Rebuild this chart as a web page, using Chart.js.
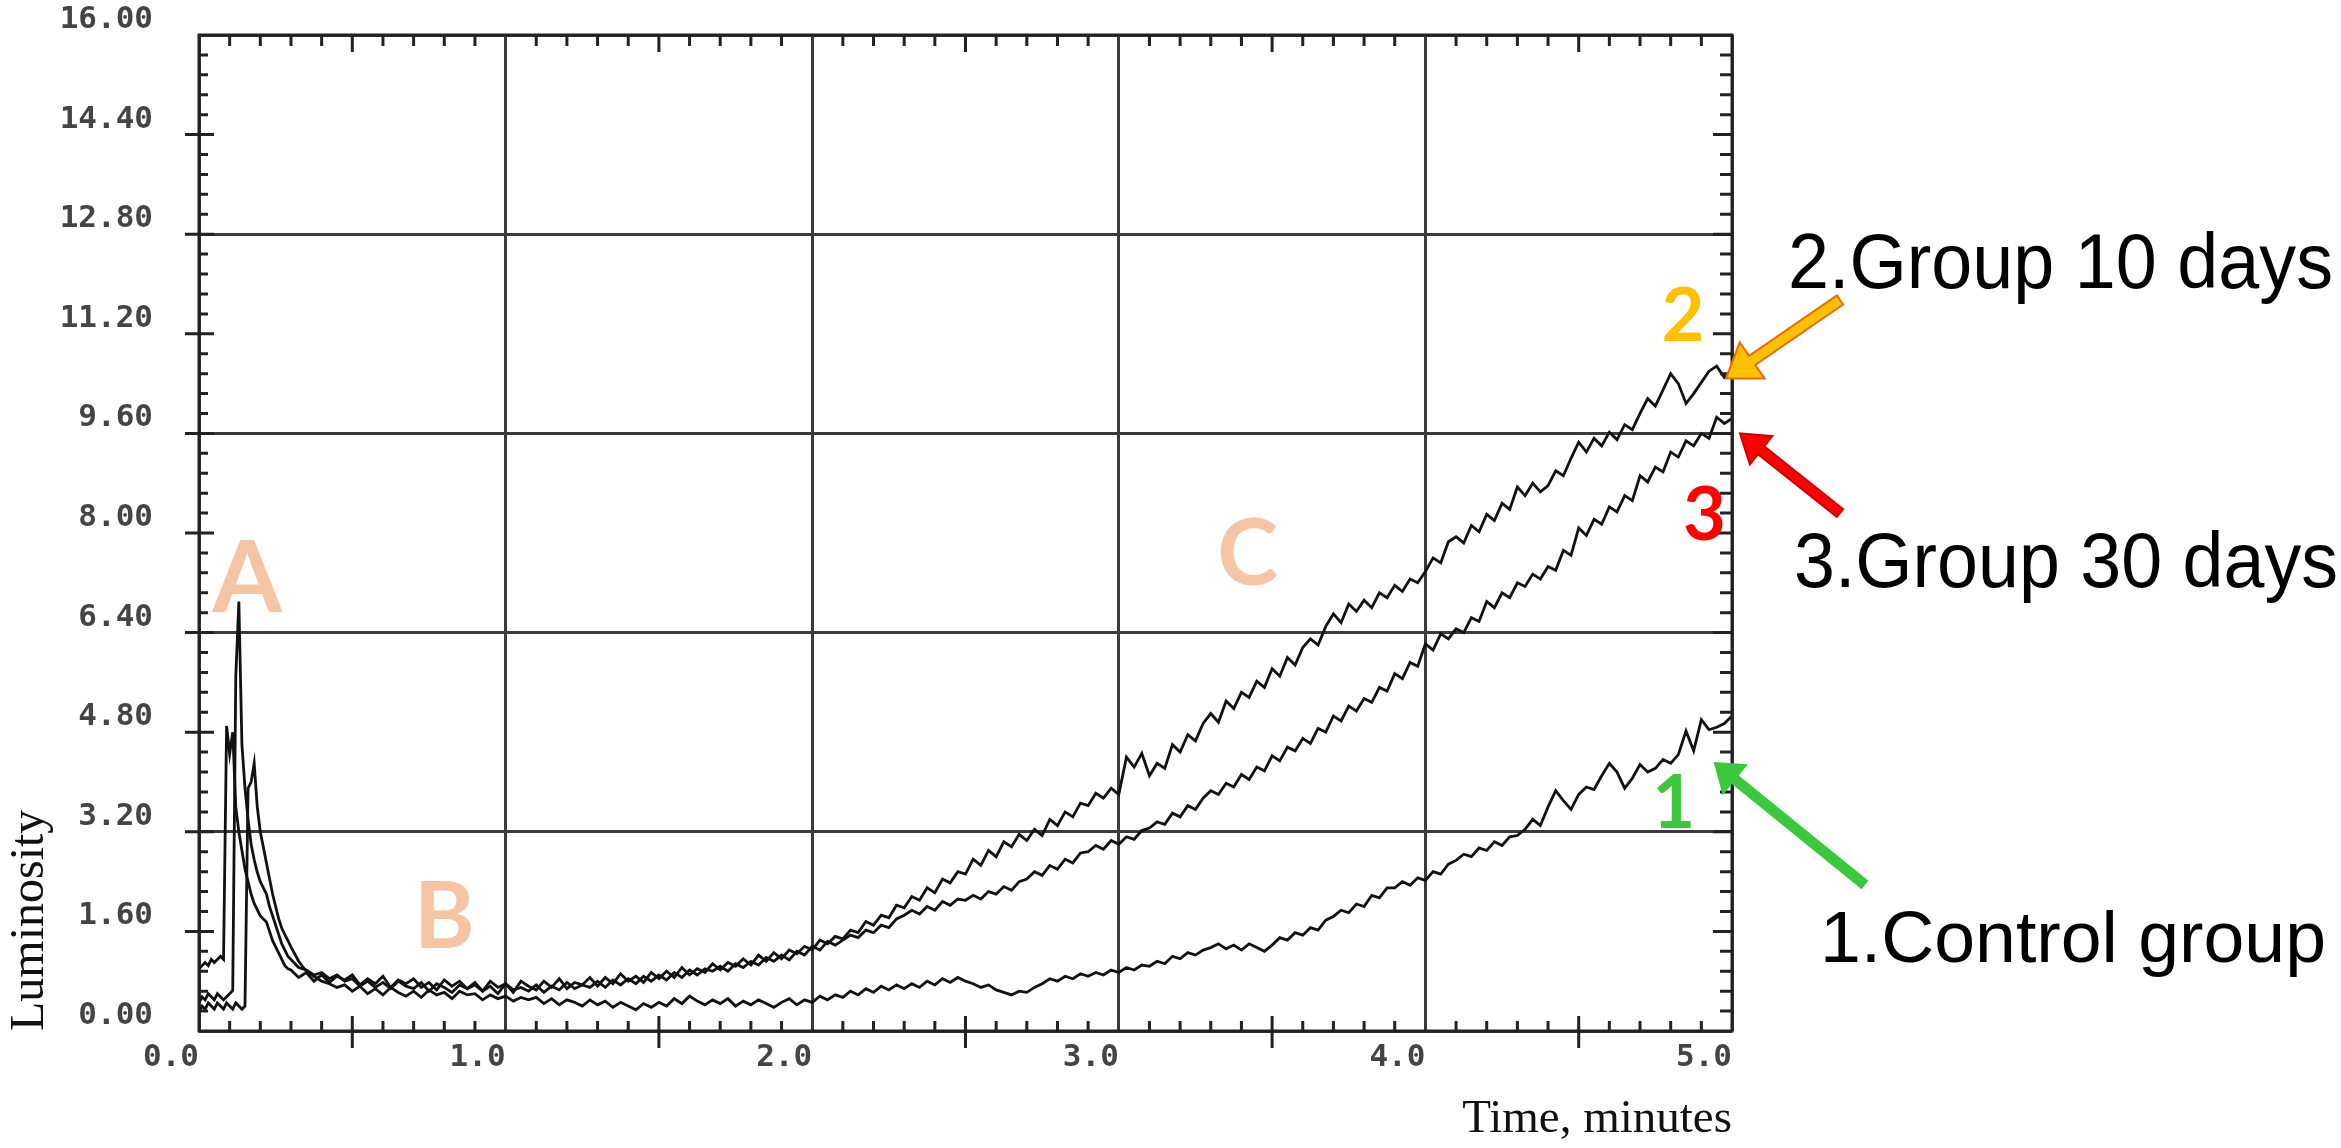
<!DOCTYPE html>
<html>
<head>
<meta charset="utf-8">
<title>Luminosity</title>
<script src="https://cdn.jsdelivr.net/npm/chart.js@4.4.1/dist/chart.umd.min.js"></script>
<style>
  body { margin: 0; background: #fff; }
  canvas { display: block; }
</style>
</head>
<body>
<canvas id="myChart" width="2341" height="1148"></canvas>
<script>
// time, minutes (0.01 over the early flash, then every 0.025)
const times = [
  0.00, 0.01, 0.02, 0.03, 0.04, 0.05, 0.06, 0.07, 0.08, 0.09,
  0.10, 0.11, 0.12, 0.13, 0.14, 0.15, 0.16, 0.17, 0.18, 0.19,
  0.20, 0.21, 0.22, 0.23, 0.24, 0.25, 0.26, 0.27, 0.28, 0.29,
  0.300, 0.325, 0.350, 0.375, 0.400, 0.425, 0.450, 0.475,
  0.500, 0.525, 0.550, 0.575, 0.600, 0.625, 0.650, 0.675,
  0.700, 0.725, 0.750, 0.775, 0.800, 0.825, 0.850, 0.875,
  0.900, 0.925, 0.950, 0.975, 1.000, 1.025, 1.050, 1.075,
  1.100, 1.125, 1.150, 1.175, 1.200, 1.225, 1.250, 1.275,
  1.300, 1.325, 1.350, 1.375, 1.400, 1.425, 1.450, 1.475,
  1.500, 1.525, 1.550, 1.575, 1.600, 1.625, 1.650, 1.675,
  1.700, 1.725, 1.750, 1.775, 1.800, 1.825, 1.850, 1.875,
  1.900, 1.925, 1.950, 1.975, 2.000, 2.025, 2.050, 2.075,
  2.100, 2.125, 2.150, 2.175, 2.200, 2.225, 2.250, 2.275,
  2.300, 2.325, 2.350, 2.375, 2.400, 2.425, 2.450, 2.475,
  2.500, 2.525, 2.550, 2.575, 2.600, 2.625, 2.650, 2.675,
  2.700, 2.725, 2.750, 2.775, 2.800, 2.825, 2.850, 2.875,
  2.900, 2.925, 2.950, 2.975, 3.000, 3.025, 3.050, 3.075,
  3.100, 3.125, 3.150, 3.175, 3.200, 3.225, 3.250, 3.275,
  3.300, 3.325, 3.350, 3.375, 3.400, 3.425, 3.450, 3.475,
  3.500, 3.525, 3.550, 3.575, 3.600, 3.625, 3.650, 3.675,
  3.700, 3.725, 3.750, 3.775, 3.800, 3.825, 3.850, 3.875,
  3.900, 3.925, 3.950, 3.975, 4.000, 4.025, 4.050, 4.075,
  4.100, 4.125, 4.150, 4.175, 4.200, 4.225, 4.250, 4.275,
  4.300, 4.325, 4.350, 4.375, 4.400, 4.425, 4.450, 4.475,
  4.500, 4.525, 4.550, 4.575, 4.600, 4.625, 4.650, 4.675,
  4.700, 4.725, 4.750, 4.775, 4.800, 4.825, 4.850, 4.875,
  4.900, 4.925, 4.950, 4.975, 5.000
];

const controlGroup = [
  0.30, 0.40, 0.35, 0.45, 0.40, 0.35, 0.45, 0.40, 0.35, 0.45,
  0.40, 0.35, 0.45, 0.40, 0.35, 0.40, 3.90, 4.00, 4.30, 3.60,
  3.20, 2.95, 2.70, 2.45, 2.20, 2.00, 1.80, 1.65, 1.55, 1.45,
  1.35, 1.12, 0.96, 0.88, 0.80, 0.76, 0.70, 0.74,
  0.64, 0.72, 0.60, 0.68, 0.58, 0.70, 0.62, 0.56,
  0.64, 0.54, 0.66, 0.58, 0.62, 0.52, 0.64, 0.58,
  0.60, 0.50, 0.58, 0.52, 0.56, 0.48, 0.54, 0.50,
  0.54, 0.44, 0.52, 0.42, 0.50, 0.46, 0.40, 0.50,
  0.42, 0.48, 0.38, 0.46, 0.40, 0.34, 0.44, 0.38,
  0.46, 0.40, 0.52, 0.44, 0.56, 0.48, 0.42, 0.50,
  0.44, 0.52, 0.40, 0.48, 0.42, 0.50, 0.44, 0.38,
  0.46, 0.52, 0.42, 0.50, 0.46, 0.56, 0.50, 0.58,
  0.54, 0.64, 0.58, 0.68, 0.62, 0.72, 0.66, 0.74,
  0.68, 0.76, 0.70, 0.80, 0.74, 0.84, 0.78, 0.86,
  0.80, 0.76, 0.70, 0.74, 0.66, 0.62, 0.58, 0.64,
  0.62, 0.70, 0.76, 0.84, 0.80, 0.88, 0.84, 0.92,
  0.88, 0.94, 0.90, 0.98, 0.94, 1.02, 0.98, 1.06,
  1.04, 1.12, 1.08, 1.20, 1.16, 1.26, 1.22, 1.30,
  1.34, 1.40, 1.32, 1.38, 1.30, 1.40, 1.34, 1.28,
  1.38, 1.50, 1.46, 1.58, 1.54, 1.66, 1.62, 1.78,
  1.84, 1.94, 1.90, 2.04, 2.00, 2.18, 2.14, 2.30,
  2.30, 2.40, 2.34, 2.46, 2.42, 2.56, 2.52, 2.68,
  2.74, 2.84, 2.80, 2.94, 2.90, 3.04, 2.98, 3.12,
  3.14, 3.24, 3.40, 3.30, 3.60, 3.86, 3.70, 3.56,
  3.80, 3.92, 3.88, 4.10, 4.30, 4.16, 3.90, 4.06,
  4.28, 4.16, 4.22, 4.36, 4.30, 4.44, 4.82, 4.50,
  5.00, 4.84, 4.88, 4.94, 5.06
];

const group10Days = [
  1.00, 1.05, 1.10, 1.05, 1.15, 1.10, 1.15, 1.20, 1.15, 4.90,
  4.45, 4.80, 3.60, 3.20, 2.90, 2.60, 2.40, 2.20, 2.05, 1.95,
  1.85, 1.80, 1.75, 1.60, 1.45, 1.35, 1.25, 1.15, 1.05, 1.00,
  0.98, 0.86, 0.94, 0.80, 0.90, 0.78, 0.88, 0.82,
  0.90, 0.74, 0.84, 0.76, 0.88, 0.70, 0.82, 0.76,
  0.84, 0.70, 0.78, 0.66, 0.82, 0.72, 0.80, 0.68,
  0.78, 0.64, 0.80, 0.70, 0.76, 0.62, 0.80, 0.72,
  0.66, 0.80, 0.70, 0.84, 0.68, 0.78, 0.74, 0.86,
  0.72, 0.86, 0.76, 0.92, 0.80, 0.88, 0.78, 0.94,
  0.84, 0.96, 0.86, 1.02, 0.90, 1.00, 0.94, 1.08,
  0.98, 1.10, 1.04, 1.16, 1.06, 1.22, 1.12, 1.26,
  1.16, 1.30, 1.24, 1.36, 1.30, 1.46, 1.40, 1.52,
  1.48, 1.62, 1.58, 1.76, 1.70, 1.86, 1.82, 2.02,
  1.98, 2.16, 2.10, 2.30, 2.22, 2.44, 2.38, 2.56,
  2.52, 2.76, 2.66, 2.90, 2.80, 3.04, 2.96, 3.16,
  3.06, 3.24, 3.14, 3.40, 3.30, 3.52, 3.44, 3.66,
  3.62, 3.82, 3.74, 3.90, 3.80, 4.40, 4.24, 4.46,
  4.10, 4.30, 4.22, 4.60, 4.48, 4.76, 4.66, 4.94,
  5.10, 4.96, 5.30, 5.18, 5.44, 5.36, 5.62, 5.52,
  5.82, 5.70, 6.00, 5.88, 6.16, 6.30, 6.20, 6.50,
  6.70, 6.56, 6.86, 6.74, 6.92, 6.80, 7.04, 6.96,
  7.16, 7.06, 7.26, 7.20, 7.38, 7.60, 7.52, 7.86,
  7.94, 7.84, 8.12, 8.02, 8.30, 8.20, 8.48, 8.38,
  8.74, 8.60, 8.80, 8.66, 8.76, 9.00, 8.92, 9.20,
  9.46, 9.30, 9.52, 9.40, 9.62, 9.50, 9.74, 9.66,
  9.92, 10.16, 10.04, 10.30, 10.56, 10.40, 10.08, 10.24,
  10.42, 10.60, 10.68, 10.50, 10.56
];

const group30Days = [
  0.45, 0.55, 0.50, 0.60, 0.55, 0.50, 0.60, 0.55, 0.50, 0.55,
  0.60, 0.65, 5.70, 6.90, 4.60, 3.90, 3.40, 3.00, 2.75, 2.55,
  2.40, 2.30, 2.20, 2.00, 1.85, 1.70, 1.55, 1.40, 1.30, 1.20,
  1.15, 1.02, 0.98, 0.90, 0.94, 0.84, 0.90, 0.80,
  0.84, 0.72, 0.80, 0.70, 0.78, 0.68, 0.80, 0.72,
  0.68, 0.78, 0.64, 0.76, 0.70, 0.62, 0.74, 0.68,
  0.74, 0.64, 0.72, 0.60, 0.76, 0.66, 0.70, 0.64,
  0.74, 0.62, 0.72, 0.66, 0.78, 0.68, 0.74, 0.70,
  0.80, 0.70, 0.82, 0.74, 0.84, 0.76, 0.88, 0.80,
  0.90, 0.82, 0.94, 0.86, 0.98, 0.90, 1.00, 0.96,
  1.04, 0.96, 1.08, 1.02, 1.12, 1.06, 1.18, 1.12,
  1.22, 1.14, 1.28, 1.22, 1.36, 1.30, 1.44, 1.38,
  1.46, 1.54, 1.50, 1.62, 1.58, 1.70, 1.66, 1.80,
  1.86, 1.94, 1.88, 2.00, 1.94, 2.08, 2.02, 2.12,
  2.10, 2.18, 2.12, 2.24, 2.20, 2.32, 2.26, 2.40,
  2.44, 2.56, 2.50, 2.66, 2.60, 2.76, 2.70, 2.86,
  2.88, 2.98, 2.92, 3.06, 3.00, 3.12, 3.08, 3.22,
  3.26, 3.36, 3.32, 3.50, 3.44, 3.62, 3.56, 3.74,
  3.86, 3.80, 3.98, 3.92, 4.12, 4.04, 4.24, 4.18,
  4.42, 4.34, 4.56, 4.50, 4.70, 4.62, 4.86, 4.80,
  5.06, 4.98, 5.22, 5.14, 5.34, 5.28, 5.52, 5.46,
  5.74, 5.66, 5.92, 5.86, 6.22, 6.12, 6.38, 6.30,
  6.46, 6.40, 6.64, 6.58, 6.90, 6.80, 7.04, 6.96,
  7.20, 7.14, 7.34, 7.26, 7.46, 7.40, 7.72, 7.64,
  8.08, 7.96, 8.22, 8.14, 8.42, 8.34, 8.60, 8.52,
  8.92, 8.82, 9.06, 8.98, 9.30, 9.22, 9.48, 9.40,
  9.60, 9.52, 9.86, 9.76, 9.84
];

const seriesNames = ['1.Control group', '2.Group 10 days', '3.Group 30 days'];
const monoFont = "'DejaVu Sans Mono', monospace";
const labelColor = '#444';

function toPoints(values) {
  return values.map((v, i) => ({ x: times[i], y: v }));
}

// outer frame plus the small inward ticks of the old plotter
const frameAndTicks = {
  id: 'frameAndTicks',
  afterDraw(chart) {
    const { ctx, chartArea: a, scales: { x, y } } = chart;
    ctx.save();
    ctx.strokeStyle = '#222';
    ctx.lineWidth = 3;
    ctx.strokeRect(a.left, a.top, a.right - a.left, a.bottom - a.top);
    ctx.beginPath();
    for (let i = 1; i < 50; i++) {
      if (i % 10 === 0) continue;
      const px = x.getPixelForValue(i / 10);
      const half = i % 5 === 0;
      ctx.moveTo(px, a.bottom + (half ? 17 : 0));
      ctx.lineTo(px, a.bottom - (half ? 15 : 10));
      ctx.moveTo(px, a.top);
      ctx.lineTo(px, a.top + (half ? 17 : 11));
    }
    for (let i = 1; i < 50; i++) {
      const py = y.getPixelForValue(i * 0.32);
      const major = i % 5 === 0;
      ctx.moveTo(a.left - (major ? 14 : 0), py);
      ctx.lineTo(a.left + (major ? 15 : 9), py);
      ctx.moveTo(a.right, py);
      ctx.lineTo(a.right - (major ? 19 : 12), py);
    }
    ctx.stroke();
    ctx.restore();
  }
};

function arrow(ctx, x0, y0, x1, y1, shaft, headLen, headHalf, fill, stroke) {
  const ang = Math.atan2(y1 - y0, x1 - x0);
  const len = Math.hypot(x1 - x0, y1 - y0);
  ctx.save();
  ctx.translate(x0, y0);
  ctx.rotate(ang);
  ctx.beginPath();
  ctx.moveTo(0, -shaft / 2);
  ctx.lineTo(len - headLen, -shaft / 2);
  ctx.lineTo(len - headLen, -headHalf);
  ctx.lineTo(len, 0);
  ctx.lineTo(len - headLen, headHalf);
  ctx.lineTo(len - headLen, shaft / 2);
  ctx.lineTo(0, shaft / 2);
  ctx.closePath();
  ctx.fillStyle = fill;
  ctx.fill();
  if (stroke) {
    ctx.strokeStyle = stroke;
    ctx.lineWidth = 2;
    ctx.stroke();
  }
  ctx.restore();
}

function condensedText(ctx, text, left, baseline, width) {
  const w = ctx.measureText(text).width;
  ctx.save();
  ctx.translate(left, baseline);
  ctx.scale(width / w, 1);
  ctx.fillText(text, 0, 0);
  ctx.restore();
}

// A/B/C zones, curve numbers, arrows and group names
const annotations = {
  id: 'annotations',
  afterDraw(chart) {
    const { ctx, scales: { x, y } } = chart;
    ctx.save();
    ctx.textAlign = 'center';
    ctx.textBaseline = 'alphabetic';
    ctx.fillStyle = '#F5C5A3';
    ctx.font = "bold 100px Lato, 'Open Sans', sans-serif";
    ctx.fillText('A', x.getPixelForValue(0.157), y.getPixelForValue(6.73));
    ctx.font = "bold 92px Lato, 'Open Sans', sans-serif";
    ctx.fillText('B', x.getPixelForValue(0.80), y.getPixelForValue(1.33));
    ctx.fillText('C', x.getPixelForValue(3.42), y.getPixelForValue(7.16));

    ctx.font = "bold 74px Lato, 'Open Sans', sans-serif";
    ctx.fillStyle = '#3CC83C';
    ctx.fillText('1', x.getPixelForValue(4.81), y.getPixelForValue(3.26));
    ctx.fillStyle = '#FFC000';
    ctx.fillText('2', x.getPixelForValue(4.84), y.getPixelForValue(11.09));
    ctx.fillStyle = '#FF0000';
    ctx.fillText('3', x.getPixelForValue(4.91), y.getPixelForValue(7.88));

    arrow(ctx, 1840, 300, x.getPixelForValue(4.98), y.getPixelForValue(10.48), 11, 32, 22, '#FFC000', '#E46C0A');
    arrow(ctx, 1840, 513, x.getPixelForValue(5.026), y.getPixelForValue(9.6), 10, 27, 18, '#FF0000', '#D00000');
    arrow(ctx, 1865, 885, x.getPixelForValue(4.94), y.getPixelForValue(4.32), 11, 28, 20, '#3CC83C', null);

    ctx.textAlign = 'left';
    ctx.fillStyle = '#000';
    ctx.font = "77px 'Liberation Sans', Arial, sans-serif";
    condensedText(ctx, seriesNames[1], 1788, 288, 545);
    condensedText(ctx, seriesNames[2], 1794, 587, 544);
    ctx.font = "73px 'Liberation Sans', Arial, sans-serif";
    condensedText(ctx, seriesNames[0], 1820, 962, 506);
    ctx.restore();
  }
};

const ctx = document.getElementById('myChart').getContext('2d');
const myChart = new Chart(ctx, {
  type: 'line',
  data: {
    datasets: [
      { label: seriesNames[0], data: toPoints(controlGroup) },
      { label: seriesNames[1], data: toPoints(group10Days) },
      { label: seriesNames[2], data: toPoints(group30Days) }
    ].map(d => Object.assign(d, {
      borderColor: '#111',
      borderWidth: 2.8,
      pointRadius: 0,
      tension: 0,
      fill: false
    }))
  },
  options: {
    responsive: false,
    animation: false,
    layout: { padding: { left: 0, top: 35, right: 609, bottom: 0 } },
    plugins: {
      legend: { display: false },
      tooltip: { enabled: false }
    },
    scales: {
      x: {
        type: 'linear',
        min: 0,
        max: 5,
        ticks: {
          stepSize: 1,
          align: 'end',
          padding: 8,
          maxRotation: 0,
          autoSkip: false,
          color: labelColor,
          font: { family: monoFont, size: 31, weight: 'bold' },
          callback: v => v.toFixed(1)
        },
        grid: { color: '#3a3a3a', lineWidth: 3, drawTicks: false },
        border: { display: false },
        title: {
          display: true,
          text: 'Time, minutes',
          align: 'end',
          color: '#111',
          font: { family: "'Liberation Serif', serif", size: 47 },
          padding: { top: 0, bottom: 0 }
        },
        afterFit: scale => { scale.height = 117; }
      },
      y: {
        min: 0,
        max: 16,
        ticks: {
          stepSize: 1.6,
          padding: 6,
          labelOffset: -15,
          autoSkip: false,
          color: labelColor,
          font: { family: monoFont, size: 31, weight: 'bold' },
          callback: v => v.toFixed(2)
        },
        grid: {
          color: c => Math.round(c.tick.value / 1.6) % 2 === 0 ? '#3a3a3a' : 'rgba(0,0,0,0)',
          lineWidth: 3,
          drawTicks: true,
          tickLength: 40,
          tickColor: 'rgba(0,0,0,0)'
        },
        border: { display: false },
        title: {
          display: true,
          text: 'Luminosity',
          align: 'start',
          color: '#111',
          font: { family: "'Liberation Serif', serif", size: 48 },
          padding: { top: 2, bottom: 0 }
        },
        afterFit: scale => { scale.width = 199; }
      }
    }
  },
  plugins: [frameAndTicks, annotations]
});
</script>
</body>
</html>
